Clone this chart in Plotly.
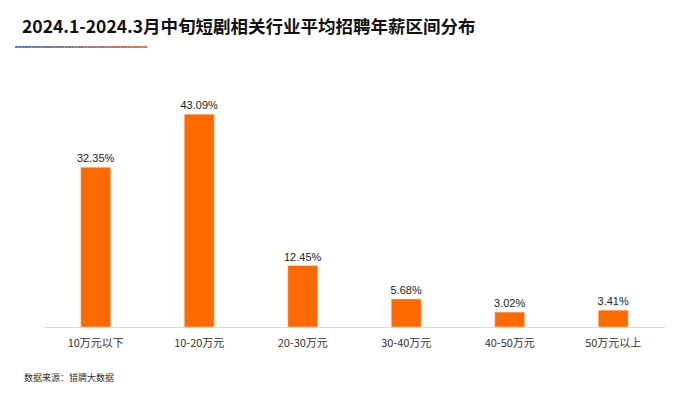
import plotly.graph_objects as go

categories = ["10万元以下", "10-20万元", "20-30万元", "30-40万元", "40-50万元", "50万元以上"]
values = [32.35, 43.09, 12.45, 5.68, 3.02, 3.41]
labels = [f"{v:.2f}%" for v in values]

title_text = "2024.1-2024.3月中旬短剧相关行业平均招聘年薪区间分布"
source_text = "数据来源：猎聘大数据"

FONT = "Microsoft YaHei, Noto Sans CJK SC, sans-serif"

fig = go.Figure(go.Bar(
    x=categories, y=values, text=labels, textposition="outside",
    constraintext="none",
    marker_color="#FF6A00", width=0.29,
    textfont=dict(size=11, color="#222222", family="Arial, Liberation Sans, sans-serif"),
    cliponaxis=False,
))

fig.update_layout(
    width=700, height=394,
    margin=dict(l=44, r=35, t=80, b=67),
    paper_bgcolor="white", plot_bgcolor="white",
    showlegend=False,
    font=dict(family=FONT),
    bargap=0.7,
)
fig.update_xaxes(
    showline=True, linecolor="#d9d9d9", linewidth=1,
    ticks="outside", ticklen=6, tickcolor="rgba(0,0,0,0)",
    tickfont=dict(size=11, color="#333333", family=FONT),
    showgrid=False,
)
fig.update_yaxes(range=[0, 50], visible=False, showgrid=False)

# title
fig.add_annotation(
    text=f"<b>{title_text}</b>", xref="paper", yref="paper",
    x=(20-44)/621, y=1 + (80-25)/247, xanchor="left", yanchor="middle",
    showarrow=False, font=dict(size=17.5, color="#111111", family=FONT),
)
# gradient underline
n = 40
x0, x1 = 15, 147
def lerp(a, b, t):
    return int(round(a + (b - a) * t))
for i in range(n):
    t = i / (n - 1)
    c = f"rgb({lerp(80,240,t)},{lerp(120,110,t)},{lerp(210,50,t)})"
    xa = x0 + (x1 - x0) * i / n
    xb = x0 + (x1 - x0) * (i + 1) / n
    fig.add_shape(type="line", xref="paper", yref="paper",
                  x0=(xa-44)/621, x1=(xb-44)/621,
                  y0=1 + (80-47)/247, y1=1 + (80-47)/247,
                  line=dict(color=c, width=2))
# source
fig.add_annotation(
    text=source_text, xref="paper", yref="paper",
    x=(22-44)/621, y=-(377-327)/247, xanchor="left", yanchor="middle",
    showarrow=False, font=dict(size=9, color="#333333", family=FONT),
)

fig.write_html("out.html")
